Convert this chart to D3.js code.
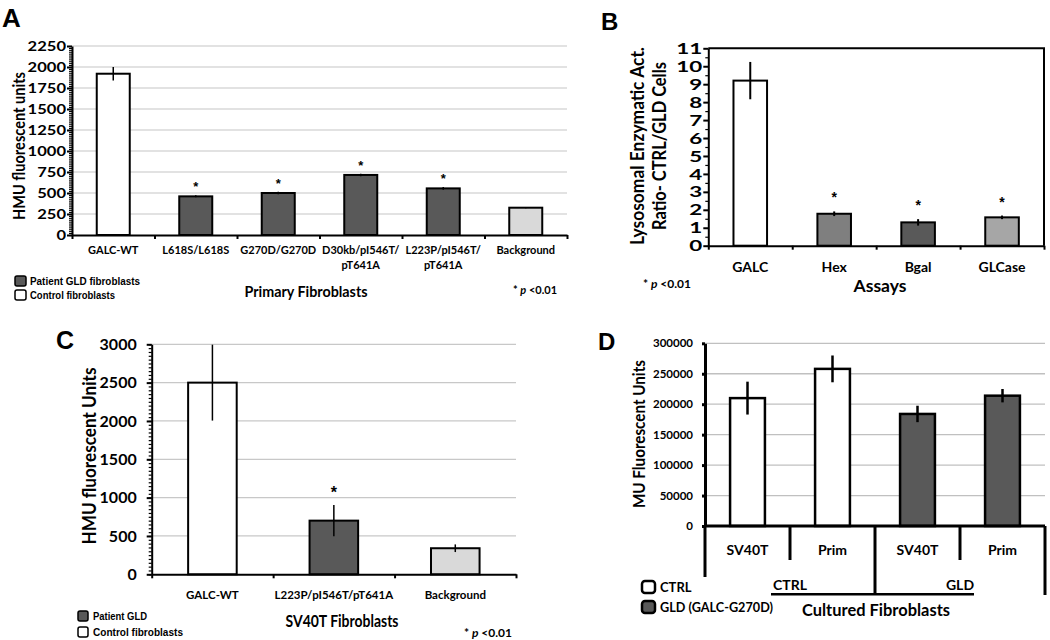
<!DOCTYPE html>
<html><head><meta charset="utf-8">
<script src="https://cdn.jsdelivr.net/npm/d3@7"></script>
<style>body{margin:0;background:#fff}svg{display:block}</style>
</head><body>
<svg id="c" width="1050" height="640"></svg>
<script>
// ---------- DATA ----------
// Panel A – Primary fibroblasts
const catsA   = ["GALC-WT","L618S/L618S","G270D/G270D","D30kb/pI546T/pT641A","L223P/pI546T/pT641A","Background"];
const labelsA = [["GALC-WT"],["L618S/L618S"],["G270D/G270D"],["D30kb/pI546T/","pT641A"],["L223P/pI546T/","pT641A"],["Background"]];
const valsA   = [1920, 460, 500, 715, 555, 325];
const errA    = [80, 12, 15, 15, 15, 8];
const typeA   = ["ctrl","gld","gld","gld","gld","bg"];
const sigA    = [false,true,true,true,true,false];
const ticksA  = [0,250,500,750,1000,1250,1500,1750,2000,2250];

// Panel B – ratio CTRL/GLD
const catsB  = ["GALC","Hex","Bgal","GLCase"];
const valsB  = [9.2, 1.78, 1.3, 1.58];
const errB   = [1.04, 0.13, 0.18, 0.1];
const typeB  = ["ctrl","hex","bgal","glc"];
const sigB   = [false,true,true,true];
const ticksB = [0,1,2,3,4,5,6,7,8,9,10,11];

// Panel C – SV40T fibroblasts
const catsC  = ["GALC-WT","L223P/pI546T/pT641A","Background"];
const valsC  = [2500, 700, 340];
const errC   = [495, 205, 50];
const typeC  = ["ctrl","gld","bg"];
const sigC   = [false,true,false];
const ticksC = [0,500,1000,1500,2000,2500,3000];

// Panel D – cultured fibroblasts
const catsD   = ["SV40T","Prim","SV40T","Prim"];
const groupsD = ["CTRL","CTRL","GLD","GLD"];
const valsD   = [210000, 258000, 184000, 214000];
const errD    = [27000, 22000, 13500, 11000];
const typeD   = ["ctrl","ctrl","gldD","gldD"];
const ticksD  = [0,50000,100000,150000,200000,250000,300000];

// ---------- STYLE ----------
const fills = {ctrl:"#ffffff", gld:"#595959", bg:"#d9d9d9", hex:"#7f7f7f", bgal:"#595959", glc:"#a6a6a6", gldD:"#595959"};
const CAL = "Lato, 'Open Sans', sans-serif";
const ARI = "'Liberation Sans', Arial, sans-serif";
const svg = d3.select("#c");

function T(g, x, y, s, o = {}) {
  const t = g.append("text")
    .attr("transform", `translate(${x},${y})` + (o.sx ? ` scale(${o.sx},1)` : "") + (o.rot ? ` rotate(${o.rot})` : ""))
    .attr("text-anchor", o.anchor || "middle")
    .attr("font-family", o.fam || CAL)
    .attr("font-weight", o.w || "bold")
    .attr("font-size", o.size || 12)
    .attr("fill", "#000").text(s);
  if (o.len) t.attr("textLength", o.len).attr("lengthAdjust", "spacingAndGlyphs");
  return t;
}
function pNote(g, x, y, size) {
  const t = g.append("text").attr("x", x).attr("y", y).attr("font-family", CAL)
    .attr("font-weight", "bold").attr("font-size", size).attr("text-anchor", "middle");
  t.append("tspan").text("* ");
  t.append("tspan").attr("font-style", "italic").text("p");
  t.append("tspan").text(" <0.01");
}

function panel(c) {
  const g = svg.append("g");
  const n = c.vals.length;
  const y = d3.scaleLinear().domain([0, c.ymax]).range([c.y0, c.y1]);
  const xb = d3.scaleBand().domain(d3.range(n)).range([c.x0, c.x1]);
  const xbar = d3.scaleBand().domain(d3.range(n)).range([c.x0, c.x1]).paddingInner(c.pad).paddingOuter(c.pad / 2);
  const xl = d3.scaleLinear().domain([0, n]).range([c.x0, c.x1]);

  if (c.grid) {
    g.append("g").selectAll("line").data(c.ticks.filter(d => d > 0)).join("line")
      .attr("x1", c.x0).attr("x2", c.x1).attr("y1", d => y(d)).attr("y2", d => y(d))
      .attr("stroke", c.grid).attr("stroke-width", 1.3);
  }
  if (c.frame) {
    g.append("path").attr("d", `M${c.x0},${y(c.ymax)}H${c.x1}V${c.y0}`).attr("fill", "none")
      .attr("stroke", "#000").attr("stroke-width", 2);
  }
  if (c.minor) {
    g.append("g").attr("transform", `translate(${c.x0},0)`)
      .call(d3.axisLeft(y).tickValues(c.minor).tickSize(c.minorSize || 3).tickSizeOuter(0).tickFormat(""))
      .call(a => a.select(".domain").remove())
      .selectAll("line").attr("stroke-width", 1.2);
  }
  const ay = g.append("g").attr("transform", `translate(${c.x0},0)`)
    .call(d3.axisLeft(y).tickValues(c.ticks).tickSize(c.tick || 5).tickSizeOuter(0).tickPadding(c.tpad || 1).tickFormat(d => d));
  ay.select(".domain").attr("stroke-width", c.axw || 2);
  ay.selectAll("line").attr("stroke-width", c.axw || 2);
  const tt = ay.selectAll("text").attr("font-family", CAL).attr("font-weight", "bold")
    .attr("font-size", c.tsize).attr("fill", "#000");
  if (c.charW) tt.attr("textLength", d => String(d).length * c.charW).attr("lengthAdjust", "spacingAndGlyphs");

  // bars
  g.append("g").selectAll("rect").data(c.vals).join("rect")
    .attr("x", (d, i) => xbar(i)).attr("width", xbar.bandwidth())
    .attr("y", d => y(d)).attr("height", d => y(0) - y(d))
    .attr("fill", (d, i) => fills[c.types[i]]).attr("stroke", "#000").attr("stroke-width", c.barw || 2);
  // error bars
  g.append("g").selectAll("line").data(c.vals).join("line")
    .attr("x1", (d, i) => xbar(i) + xbar.bandwidth() / 2).attr("x2", (d, i) => xbar(i) + xbar.bandwidth() / 2)
    .attr("y1", (d, i) => y(d - c.errs[i])).attr("y2", (d, i) => y(d + c.errs[i]))
    .attr("stroke", "#000").attr("stroke-width", c.errw || 1.5);
  // significance
  if (c.sig) c.vals.forEach((d, i) => {
    if (c.sig[i]) T(g, xbar(i) + xbar.bandwidth() / 2, y(d + c.errs[i]) - c.starOff, "*", {size: c.starSize, fam: ARI});
  });
  // x axis
  if (!c.noXAxis) {
    const ax = g.append("g").attr("transform", `translate(0,${c.y0})`)
      .call(d3.axisBottom(xl).tickValues(d3.range(n + 1)).tickSize(c.xtick || 4).tickSizeOuter(0).tickFormat(""));
    ax.select(".domain").attr("stroke-width", c.axw || 2);
    ax.selectAll("line").attr("stroke-width", c.axw || 2);
  }
  // category labels
  if (c.labels) c.labels.forEach((lines, i) => {
    lines.forEach((s, k) => T(g, xb(i) + xb.bandwidth() / 2, c.labY + k * c.labLH, s, {size: c.labSize}));
  });
  return {g, y, xb, xbar};
}

// ---------- PANEL A ----------
const A = panel({
  x0: 72, x1: 567, y0: 235, y1: 46, ymax: 2250, ticks: ticksA, minor: d3.range(0, 2251, 25),
  grid: "#d9d9d9", tsize: 14, charW: 9.6, tick: 5, tpad: 1, pad: 0.6,
  vals: valsA, errs: errA, types: typeA, sig: sigA, starOff: 4, starSize: 13,
  labels: labelsA, labY: 254, labLH: 15, labSize: 11
});
T(A.g, 2, 27, "A", {anchor: "start", fam: ARI, size: 26});
T(A.g, 25, 146, "HMU fluorescent units", {rot: -90, size: 15, len: 148, sx: 1.1});
T(A.g, 306, 297, "Primary Fibroblasts", {size: 14.5, len: 123});
pNote(A.g, 535, 294, 11);
A.g.append("rect").attr("x", 15).attr("y", 276).attr("width", 11).attr("height", 10).attr("rx", 2)
  .attr("fill", "#595959").attr("stroke", "#000").attr("stroke-width", 1.5);
A.g.append("rect").attr("x", 15).attr("y", 290).attr("width", 11).attr("height", 10).attr("rx", 2)
  .attr("fill", "#fff").attr("stroke", "#000").attr("stroke-width", 1.5);
T(A.g, 30, 285, "Patient GLD fibroblasts", {anchor: "start", fam: ARI, size: 10, len: 110});
T(A.g, 30, 299, "Control fibroblasts", {anchor: "start", fam: ARI, size: 10, len: 85});

// ---------- PANEL B ----------
const B = panel({
  x0: 708.3, x1: 1044, y0: 245.7, y1: 48.3, ymax: 11, ticks: ticksB, minor: d3.range(0.5, 11, 1), minorSize: 3,
  frame: true, tsize: 16, charW: 13, tick: 5, tpad: 0, pad: 0.6,
  vals: valsB, errs: errB, types: typeB, sig: sigB, starOff: 9, starSize: 14, errw: 2,
  labels: catsB.map(d => [d]), labY: 272, labLH: 0, labSize: 14
});
T(B.g, 601, 30, "B", {anchor: "start", fam: ARI, size: 24});
T(B.g, 644, 146, "Lysosomal Enzymatic Act.", {rot: -90, size: 15.5, len: 198, sx: 1.2});
T(B.g, 666, 146, "Ratio- CTRL/GLD Cells", {rot: -90, size: 15.5, len: 168, sx: 1.2});
T(B.g, 880, 292, "Assays", {size: 17, len: 53});
pNote(B.g, 667, 288, 12);

// ---------- PANEL C ----------
const C = panel({
  x0: 151.7, x1: 516, y0: 574.3, y1: 344.3, ymax: 3000, ticks: ticksC, minor: d3.range(0, 3001, 50),
  grid: "#c8c8c8", tsize: 16, tick: 5, tpad: 10, pad: 0.6,
  vals: valsC, errs: errC, types: typeC, sig: sigC, starOff: 6.7, starSize: 16,
  labels: catsC.map(d => [d]), labY: 599, labLH: 0, labSize: 11.5
});
T(C.g, 56, 349, "C", {anchor: "start", fam: ARI, size: 25});
T(C.g, 96, 456, "HMU fluorescent Units", {rot: -90, size: 17, len: 177, sx: 1.12});
T(C.g, 342, 627, "SV40T Fibroblasts", {size: 17, len: 113});
pNote(C.g, 488, 637, 12);
C.g.append("rect").attr("x", 78).attr("y", 611).attr("width", 10).attr("height", 10).attr("rx", 2)
  .attr("fill", "#595959").attr("stroke", "#000").attr("stroke-width", 1.5);
C.g.append("rect").attr("x", 78).attr("y", 627).attr("width", 10).attr("height", 10).attr("rx", 2)
  .attr("fill", "#fff").attr("stroke", "#000").attr("stroke-width", 1.5);
T(C.g, 93, 620, "Patient GLD", {anchor: "start", fam: ARI, size: 10.5, len: 54});
T(C.g, 93, 636, "Control fibroblasts", {anchor: "start", fam: ARI, size: 10.5, len: 90});

// ---------- PANEL D ----------
const D = panel({
  x0: 705, x1: 1045, y0: 526, y1: 343.3, ymax: 300000, ticks: ticksD,
  grid: "#c0c0c0", tsize: 11.5, tick: 3, tpad: 9, pad: 0.59, axw: 3, barw: 2.5, errw: 2.5,
  vals: valsD, errs: errD, types: typeD, noXAxis: true,
  labels: catsD.map(d => [d]), labY: 555, labLH: 0, labSize: 14
});
{
  const xb = D.xb, y0 = 526;
  const L = (x1, y1, x2, y2) => D.g.append("line").attr("x1", x1).attr("y1", y1).attr("x2", x2).attr("y2", y2)
    .attr("stroke", "#000").attr("stroke-width", 3);
  L(705, y0, 1045, y0);
  L(xb(0), y0, xb(0), y0 + 51);
  L(xb(1), y0, xb(1), y0 + 34);
  L(xb(2), y0, xb(2), y0 + 68);
  L(xb(3), y0, xb(3), y0 + 34);
  L(1045, y0, 1045, y0 + 69);
  D.g.append("line").attr("x1", xb(1) - 19).attr("x2", xb(3) + 14).attr("y1", 594.3).attr("y2", 594.3)
    .attr("stroke", "#000").attr("stroke-width", 2.5);
  T(D.g, xb(1), 590, groupsD[0], {size: 14});
  T(D.g, xb(3), 590, groupsD[2], {size: 14});
}
T(D.g, 598, 350, "D", {anchor: "start", fam: ARI, size: 24});
T(D.g, 645, 434, "MU Fluorescent Units", {rot: -90, size: 15, len: 148, sx: 1.1});
T(D.g, 876, 616, "Cultured Fibroblasts", {size: 17, len: 148});
D.g.append("rect").attr("x", 642).attr("y", 581).attr("width", 13).attr("height", 12).attr("rx", 3)
  .attr("fill", "#fff").attr("stroke", "#000").attr("stroke-width", 2.5);
D.g.append("rect").attr("x", 642).attr("y", 601).attr("width", 13).attr("height", 12).attr("rx", 3)
  .attr("fill", "#595959").attr("stroke", "#000").attr("stroke-width", 2.5);
T(D.g, 660, 592, "CTRL", {anchor: "start", size: 13});
T(D.g, 660, 612, "GLD (GALC-G270D)", {anchor: "start", size: 13, len: 113});
</script>
</body></html>
